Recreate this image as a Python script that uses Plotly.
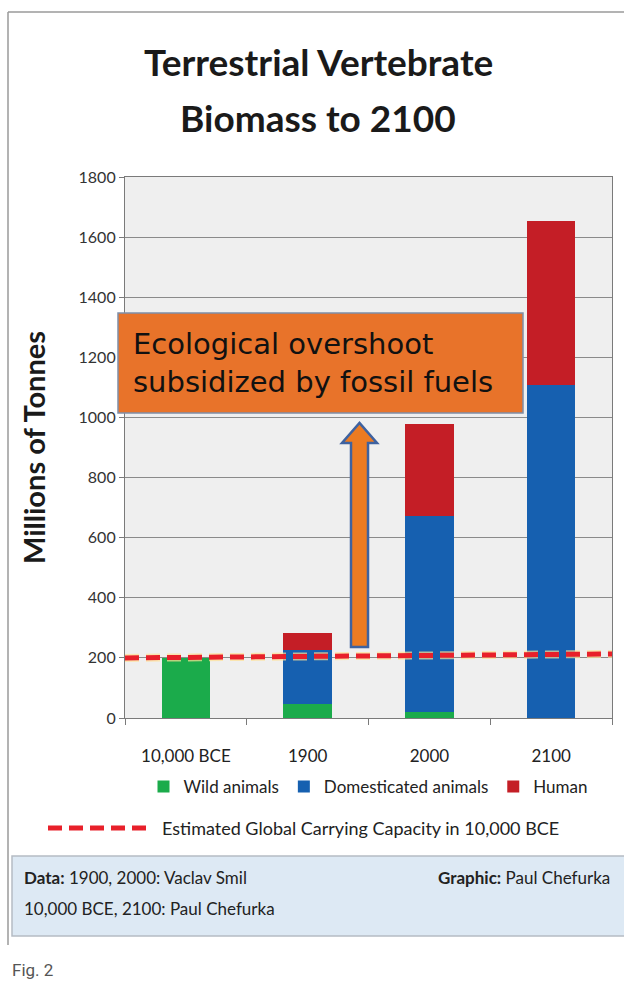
import plotly.graph_objects as go

categories = ["10,000 BCE", "1900", "2000", "2100"]
wild = [200, 45, 20, 0]
domesticated = [0, 180, 653, 1107]
human = [0, 58, 304, 548]
capacity_x = [-0.5, 3.5]
capacity_y = [200, 213]
y_ticks = [0, 200, 400, 600, 800, 1000, 1200, 1400, 1600, 1800]

W, H = 624, 984
L, R, T, B = 125, 12, 177, 266
PW, PH = W - L - R, H - T - B


def px(x):
    return (x - L) / PW


def py(y):
    return (H - B - y) / PH


FONT = "Lato, 'Open Sans', sans-serif"
xs = list(range(len(categories)))

fig = go.Figure()
fig.add_bar(x=xs, y=wild, name="Wild animals", marker_color="#1bab4b",
            marker_line_width=0, width=0.4)
fig.add_bar(x=xs, y=domesticated, name="Domesticated animals", marker_color="#1660b0",
            marker_line_width=0, width=0.4)
fig.add_bar(x=xs, y=human, name="Human", marker_color="#c41e26",
            marker_line_width=0, width=0.4)
fig.add_scatter(x=capacity_x, y=capacity_y, mode="lines", showlegend=False,
                line=dict(color="rgba(255,225,150,0.7)", width=8, dash="14px,7px"),
                hoverinfo="skip")
fig.add_scatter(x=capacity_x, y=capacity_y, mode="lines", showlegend=False,
                name="Estimated Global Carrying Capacity in 10,000 BCE",
                line=dict(color="#e8202a", width=5, dash="14px,7px"))

shapes = []
shapes.append(dict(type="line", xref="paper", yref="paper", x0=px(8), x1=px(8), y0=py(12), y1=py(945),
                   line=dict(color="#9a9a9a", width=1.5)))
shapes.append(dict(type="line", xref="paper", yref="paper", x0=px(8), x1=px(626), y0=py(12), y1=py(12),
                   line=dict(color="#9a9a9a", width=1.5)))
shapes.append(dict(type="rect", xref="paper", yref="paper", x0=px(12), x1=px(626), y0=py(856), y1=py(936),
                   fillcolor="#dde9f4", line=dict(color="#b5bcc4", width=1.5), layer="below"))
shapes.append(dict(type="rect", xref="paper", yref="paper", x0=px(118), x1=px(523), y0=py(413), y1=py(313),
                   fillcolor="#e8732a", line=dict(color="#7f8fa8", width=1.5)))
ax = [351, 368, 368, 377, 359.5, 342, 351]
ay = [647, 647, 443, 443, 423, 443, 443]
path = "M " + " L ".join(f"{px(a)},{py(b)}" for a, b in zip(ax, ay)) + " Z"
shapes.append(dict(type="path", xref="paper", yref="paper", path=path,
                   fillcolor="#ec7b22", line=dict(color="#3e62a0", width=2.5)))
shapes.append(dict(type="line", xref="paper", yref="paper", x0=px(48), x1=px(150), y0=py(828), y1=py(828),
                   line=dict(color="#e8202a", width=5, dash="14px,7px")))

annotations = [
    dict(text="<b>Terrestrial Vertebrate</b>", xref="paper", yref="paper",
         x=px(318), y=py(62), xanchor="center", yanchor="middle", showarrow=False,
         font=dict(family=FONT, size=37, color="#1a1a1a")),
    dict(text="<b>Biomass to 2100</b>", xref="paper", yref="paper",
         x=px(318), y=py(118), xanchor="center", yanchor="middle", showarrow=False,
         font=dict(family=FONT, size=37, color="#1a1a1a")),
    dict(text="Ecological overshoot<br>subsidized by fossil fuels", xref="paper", yref="paper",
         x=px(131), y=py(363), xanchor="left", yanchor="middle", align="left", showarrow=False,
         font=dict(family="'Comic Sans MS', 'DejaVu Sans', sans-serif", size=29, color="#111111")),
    dict(text="Estimated Global Carrying Capacity in 10,000 BCE", xref="paper", yref="paper",
         x=px(160), y=py(828), xanchor="left", yanchor="middle", showarrow=False,
         font=dict(family=FONT, size=18, color="#222222")),
    dict(text="<b>Data:</b> 1900, 2000: Vaclav Smil", xref="paper", yref="paper",
         x=px(22), y=py(877), xanchor="left", yanchor="middle", align="left", showarrow=False,
         font=dict(family=FONT, size=17, color="#222222")),
    dict(text="10,000 BCE, 2100: Paul Chefurka", xref="paper", yref="paper",
         x=px(22), y=py(908), xanchor="left", yanchor="middle", align="left", showarrow=False,
         font=dict(family=FONT, size=17, color="#222222")),
    dict(text="<b>Graphic:</b> Paul Chefurka", xref="paper", yref="paper",
         x=px(612), y=py(877), xanchor="right", yanchor="middle", showarrow=False,
         font=dict(family=FONT, size=17, color="#222222")),
    dict(text="Fig. 2", xref="paper", yref="paper",
         x=px(10), y=py(970), xanchor="left", yanchor="middle", showarrow=False,
         font=dict(family="Roboto, sans-serif", size=17, color="#555555")),
]

fig.update_layout(
    width=W, height=H,
    margin=dict(l=L, r=R, t=T, b=B),
    paper_bgcolor="white",
    plot_bgcolor="#efefef",
    barmode="stack",
    font=dict(family=FONT, color="#222222"),
    legend=dict(orientation="h", x=px(368), xanchor="center", y=py(787), yanchor="middle",
                font=dict(family=FONT, size=17, color="#222222"), bgcolor="rgba(0,0,0,0)",
                itemwidth=30, traceorder="normal"),
    shapes=shapes,
    annotations=annotations,
    xaxis=dict(range=[-0.5, 3.5], tickvals=xs, ticktext=categories, ticks="",
               ticklabelstandoff=22,
               tickfont=dict(size=17, color="#222222"), showgrid=False, zeroline=False,
               showline=True, linecolor="#7a7a7a", linewidth=1.2, mirror=True,
               minor=dict(tickvals=[-0.5, 0.5, 1.5, 2.5, 3.5], ticks="outside", ticklen=6,
                          tickcolor="#7a7a7a", showgrid=False)),
    yaxis=dict(range=[0, 1800], tickvals=y_ticks, ticks="outside", ticklen=5, tickcolor="#7a7a7a",
               tickfont=dict(size=16, color="#333333"), showgrid=True, gridcolor="#8a8a8a",
               gridwidth=1, zeroline=False, showline=True, linecolor="#7a7a7a", linewidth=1.2,
               mirror=True,
               title=dict(text="<b>Millions of Tonnes</b>", font=dict(size=29, color="#1a1a1a"),
                          standoff=24)),
)

fig.write_html("out.html", config={"displayModeBar": False})

with open("out.html", "r", encoding="utf-8") as f:
    html = f.read()
html = html.replace("<head>", "<head><style>html,body{margin:0;padding:0;overflow:hidden;}</style>", 1)
with open("out.html", "w", encoding="utf-8") as f:
    f.write(html)
